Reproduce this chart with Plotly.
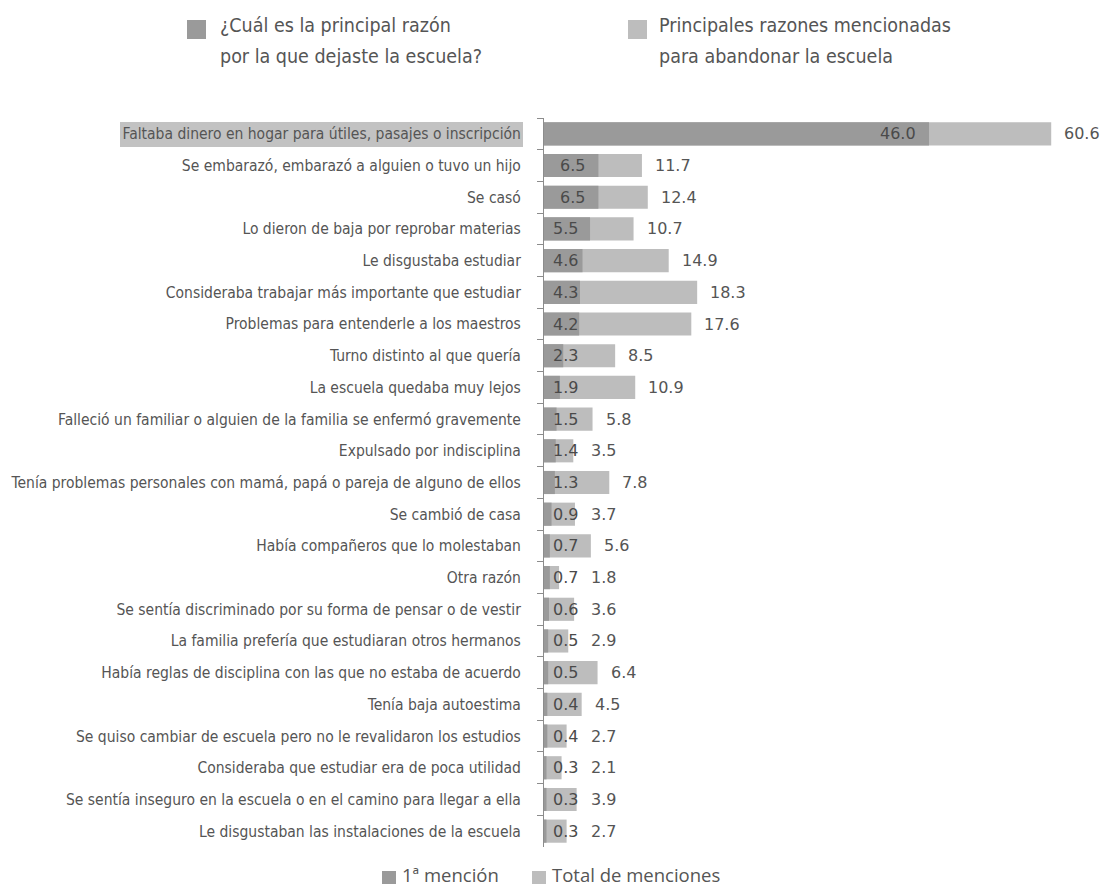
import plotly.graph_objects as go

categories = [
    "Faltaba dinero en hogar para útiles, pasajes o inscripción",
    "Se embarazó, embarazó a alguien o tuvo un hijo",
    "Se casó",
    "Lo dieron de baja por reprobar materias",
    "Le disgustaba estudiar",
    "Consideraba trabajar más importante que estudiar",
    "Problemas para entenderle a los maestros",
    "Turno distinto al que quería",
    "La escuela quedaba muy lejos",
    "Falleció un familiar o alguien de la familia se enfermó gravemente",
    "Expulsado por indisciplina",
    "Tenía problemas personales con mamá, papá o pareja de alguno de ellos",
    "Se cambió de casa",
    "Había compañeros que lo molestaban",
    "Otra razón",
    "Se sentía discriminado por su forma de pensar o de vestir",
    "La familia prefería que estudiaran otros hermanos",
    "Había reglas de disciplina con las que no estaba de acuerdo",
    "Tenía baja autoestima",
    "Se quiso cambiar de escuela pero no le revalidaron los estudios",
    "Consideraba que estudiar era de poca utilidad",
    "Se sentía inseguro en la escuela o en el camino para llegar a ella",
    "Le disgustaban las instalaciones de la escuela",
]

primera_mencion = [46.0, 6.5, 6.5, 5.5, 4.6, 4.3, 4.2, 2.3, 1.9, 1.5, 1.4, 1.3,
                   0.9, 0.7, 0.7, 0.6, 0.5, 0.5, 0.4, 0.4, 0.3, 0.3, 0.3]
total_menciones = [60.6, 11.7, 12.4, 10.7, 14.9, 18.3, 17.6, 8.5, 10.9, 5.8, 3.5, 7.8,
                   3.7, 5.6, 1.8, 3.6, 2.9, 6.4, 4.5, 2.7, 2.1, 3.9, 2.7]

series_names = ["1ª mención", "Total de menciones"]
top_legend_lines = [
    ["¿Cuál es la principal razón", "por la que dejaste la escuela?"],
    ["Principales razones mencionadas", "para abandonar la escuela"],
]

DARK = "#9a9a9a"
LIGHT = "#bdbdbd"
TEXT = "#555555"
AXIS = "#8c8c8c"

W, H = 1102, 888
ML, MR, MT, MB = 544, 2, 118, 41
PW, PH = W - ML - MR, H - MT - MB
PX_PER_UNIT = 8.37
XMAX = PW / PX_PER_UNIT

LABEL_FONT = "Liberation Sans Narrow, DejaVu Sans Condensed, Lato, sans-serif"
NUM_FONT = "DejaVu Sans, sans-serif"


def px(xp):
    return (xp - ML) / PW


def py(yp):
    return 1 - (yp - MT) / PH


fig = go.Figure()
fig.add_trace(go.Bar(
    y=categories, x=total_menciones, orientation="h", width=0.73,
    marker=dict(color=LIGHT, line=dict(width=0)), name=series_names[1],
    showlegend=False, hoverinfo="x+y",
))
fig.add_trace(go.Bar(
    y=categories, x=primera_mencion, orientation="h", width=0.73,
    marker=dict(color=DARK, line=dict(width=0)), name=series_names[0],
    showlegend=False, hoverinfo="x+y",
))

annotations = []
for cat, v1, vt in zip(categories, primera_mencion, total_menciones):
    annotations.append(dict(
        x=max(v1, 5.6), y=cat, xref="x", yref="y", text=f"{v1:.1f}",
        xanchor="right", yanchor="middle", xshift=-11, showarrow=False,
        font=dict(family=NUM_FONT, size=16, color="#4a4a4a"),
    ))
    annotations.append(dict(
        x=max(vt, 4.05), y=cat, xref="x", yref="y", text=f"{vt:.1f}",
        xanchor="left", yanchor="middle", xshift=11, showarrow=False,
        font=dict(family=NUM_FONT, size=16, color=TEXT),
    ))

shapes = [
    # highlight behind first category label
    dict(type="rect", xref="paper", yref="paper", x0=px(120), x1=px(523),
         y0=py(147), y1=py(122), fillcolor="#c2c2c2", line=dict(width=0), layer="below"),
]

# top legend
top_sq_x = [187, 628]
top_txt_x = [218, 657]
top_colors = [DARK, LIGHT]
for sx, tx, col, lines in zip(top_sq_x, top_txt_x, top_colors, top_legend_lines):
    shapes.append(dict(type="rect", xref="paper", yref="paper", x0=px(sx), x1=px(sx + 19),
                       y0=py(39), y1=py(20), fillcolor=col, line=dict(width=0)))
    for i, line in enumerate(lines):
        annotations.append(dict(
            x=px(tx), y=py(26 + 30 * i), xref="paper", yref="paper", text=line,
            xanchor="left", yanchor="middle", showarrow=False,
            font=dict(family=LABEL_FONT, size=19.5, color=TEXT),
        ))

# bottom legend
bot_sq_x = [382, 532]
bot_colors = [DARK, LIGHT]
for sx, col, name in zip(bot_sq_x, bot_colors, series_names):
    shapes.append(dict(type="rect", xref="paper", yref="paper", x0=px(sx), x1=px(sx + 14),
                       y0=py(884), y1=py(871), fillcolor=col, line=dict(width=0)))
    annotations.append(dict(
        x=px(sx + 18), y=py(875), xref="paper", yref="paper", text=name,
        xanchor="left", yanchor="middle", showarrow=False,
        font=dict(family="Open Sans, sans-serif", size=18.5, color=TEXT),
    ))

fig.update_layout(
    width=W, height=H, autosize=False,
    margin=dict(l=ML, r=MR, t=MT, b=MB, pad=0),
    barmode="overlay",
    plot_bgcolor="white", paper_bgcolor="white",
    xaxis=dict(range=[0, XMAX], visible=False, showgrid=False, zeroline=False, fixedrange=True),
    yaxis=dict(
        type="category", categoryorder="array", categoryarray=categories,
        autorange="reversed", showgrid=False, zeroline=False,
        showline=True, linecolor=AXIS, linewidth=1,
        ticks="outside", tickson="boundaries", ticklen=6, tickcolor=AXIS, tickwidth=1,
        tickfont=dict(family=LABEL_FONT, size=15.5, color=TEXT),
        ticklabelstandoff=19,
    ),
    shapes=shapes,
    annotations=annotations,
    showlegend=False,
)

fig.write_html(
    "out.html",
    config={"displayModeBar": False},
    post_script="document.body.style.margin='0';document.body.style.overflow='hidden';",
)
